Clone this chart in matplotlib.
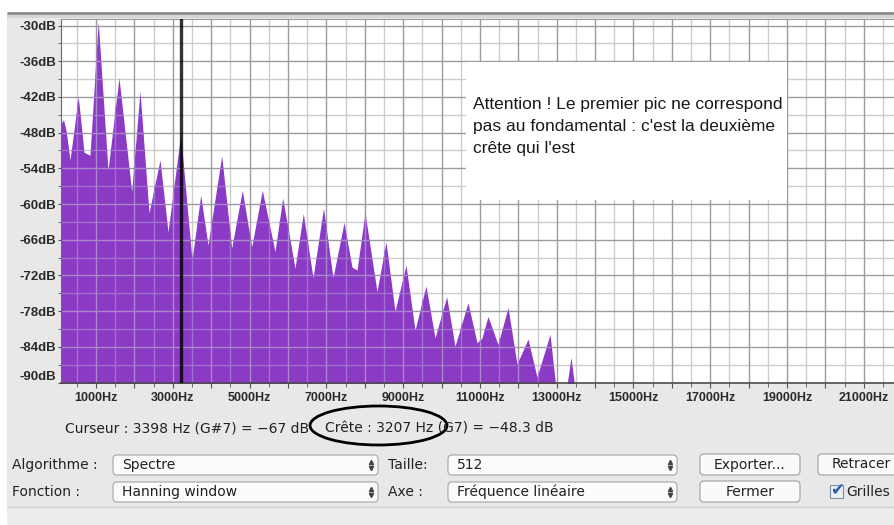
import numpy as np
import matplotlib
matplotlib.use("Agg")
import matplotlib.pyplot as plt
from matplotlib.patches import Rectangle, Ellipse, FancyBboxPatch
from matplotlib.ticker import MultipleLocator

W, H = 895, 525

# spectrum outline (Hz, dB), peaks and troughs of the harmonics
freq_hz = [91, 156, 221, 326, 542, 690, 846, 1060, 1315, 1601, 1932, 2148,
           2383, 2669, 2878, 3207, 3503, 3729, 3919, 4276, 4536, 4812, 5057,
           5333, 5664, 5864, 6185, 6401, 6654, 6927, 7174, 7461, 7669, 7800,
           8008, 8320, 8555, 8789, 9076, 9310, 9596, 9831, 10135, 10352,
           10690, 10925, 11050, 11210, 11471, 11732, 11966, 12253, 12487,
           12826, 12982, 13255, 13372, 13476, 22050]
level_db = [-46.5, -45.8, -47.5, -52.6, -42.0, -51.3, -51.8, -29.3, -54.3,
            -38.8, -57.9, -41.0, -61.5, -52.6, -64.7, -48.3, -69.4, -58.5,
            -66.9, -51.9, -67.4, -57.7, -67.2, -57.7, -68.0, -59.0, -70.8,
            -61.6, -72.4, -60.7, -72.4, -63.1, -70.6, -71.1, -61.5, -74.7,
            -66.4, -78.0, -70.3, -81.2, -73.8, -82.5, -75.6, -83.9, -76.6,
            -83.3, -82.6, -78.9, -83.6, -77.4, -86.9, -82.7, -89.1, -81.9,
            -91.0, -91.0, -85.8, -91.0, -91.0]

peak_hz = 3207
f_range = (91, 21810)
db_range = (-90, -28.9)

x_ticks = list(range(1000, 22000, 1000))
x_named = ['1000Hz', '3000Hz', '5000Hz', '7000Hz', '9000Hz', '11000Hz',
           '13000Hz', '15000Hz', '17000Hz', '19000Hz', '21000Hz']
y_ticks = [-90, -84, -78, -72, -66, -60, -54, -48, -42, -36, -30]
y_labels = ['-90dB', '-84dB', '-78dB', '-72dB', '-66dB', '-60dB', '-54dB',
            '-48dB', '-42dB', '-36dB', '-30dB']

note = ("Attention ! Le premier pic ne correspond\n"
        "pas au fondamental : c'est la deuxième\n"
        "crête qui l'est")
cursor_txt = "Curseur : 3398 Hz (G#7) = \u221267 dB"
peak_txt = "Crête : 3207 Hz (G7) = \u221248.3 dB"

PURPLE = '#8b3ac5'
BG = '#e8e8e8'

fig = plt.figure(figsize=(W / 100, H / 100), dpi=100)
fig.patch.set_facecolor('white')
fig.add_artist(Rectangle((7 / W, 0), 1, (H - 13) / H, transform=fig.transFigure,
                         fc=BG, ec='none', zorder=-2))

ax = fig.add_axes([61 / W, (H - 382.5) / H, (W - 61) / W, (382.5 - 19) / H])
ax.set_facecolor('white')
ax.set_xlim(*f_range)
ax.set_ylim(*db_range)

fill = ax.fill_between(freq_hz, level_db, -100, color=PURPLE, lw=0, zorder=1)

# grid: gray on white, lighter lavender where it crosses the spectrum
gx_major = np.arange(1000, 22000, 1000)
gx_minor = np.arange(500, 22000, 1000)
gy_major = np.arange(-84, -29, 6)
gy_minor = np.arange(-87, -29, 6)
clip = fill.get_paths()[0]
for cols, z, clipped in [(('#cdcdcd', '#9c9c9c'), 0.5, False),
                         (('#a070cf', '#aa88cc'), 2, True)]:
    for gx, gy, c in [(gx_minor, gy_minor, cols[0]), (gx_major, gy_major, cols[1])]:
        vl = ax.vlines(gx, *db_range, colors=c, lw=1.0, zorder=z)
        hl = ax.hlines(gy, *f_range, colors=c, lw=1.0, zorder=z)
        if clipped:
            vl.set_clip_path(clip, ax.transData)
            hl.set_clip_path(clip, ax.transData)

ax.axvline(peak_hz, color='black', alpha=0.8, lw=2.4, zorder=3)

ax.spines['right'].set_visible(False)
ax.spines['left'].set_color('#6a6a6a')
ax.spines['bottom'].set_color('#4a4a4a')
ax.spines['bottom'].set_linewidth(1.2)
ax.spines['top'].set_color('#9a9a9a')

ax.set_xticks(x_ticks)
ax.set_xticklabels([f"{t}Hz" if f"{t}Hz" in x_named else '' for t in x_ticks])
ax.set_yticks(y_ticks)
ax.set_yticklabels(y_labels)
ax.xaxis.set_minor_locator(MultipleLocator(500))
ax.yaxis.set_minor_locator(MultipleLocator(3))
ax.tick_params(axis='x', which='major', length=3.5, color='#555555', pad=3)
ax.tick_params(axis='x', which='minor', length=3, color='#555555')
ax.tick_params(axis='y', which='both', length=2.5, color='#555555', pad=1)
for lab in ax.get_xticklabels():
    lab.set_fontfamily('Liberation Sans')
    lab.set_fontweight('bold')
    lab.set_fontsize(9)
    lab.set_color('#2a2a2a')
for lab in ax.get_yticklabels():
    lab.set_fontfamily('Liberation Sans')
    lab.set_fontweight('bold')
    lab.set_fontsize(9.5)
    lab.set_color('#2a2a2a')
ax.get_yticklabels()[0].set_va('bottom')

# window chrome drawn in pixel coordinates
ui = fig.add_axes([0, 0, 1, 1], zorder=5)
ui.set_xlim(0, W)
ui.set_ylim(H, 0)
ui.axis('off')
ui.patch.set_alpha(0)

ui.hlines(13, 7, W, color='#8a8a8a', lw=2)
ui.add_patch(Rectangle((7, 14.5), W, 3.5, fc='#d6d6d6', ec='none'))

ui.add_patch(Rectangle((466, 62), 787 - 466, 200 - 62, fc='white', ec='none'))
ui.text(473, 97, note, va='top', ha='left', fontsize=12.5,
        family='Liberation Sans', linespacing=1.6, color='#1a1a1a')

TXT = dict(family='DejaVu Sans', fontsize=10, color='#222222', va='center')
ui.text(65, 429, cursor_txt, **TXT)
ui.text(325, 429, peak_txt, **TXT)
ui.add_patch(Ellipse((378.5, 425.5), 137, 39, fill=False, ec='black', lw=2))


def dropdown(x0, x1, y0, label):
    ui.add_patch(FancyBboxPatch((x0, y0), x1 - x0, 20,
                                boxstyle='round,pad=0,rounding_size=4',
                                fc='#fbfbfb', ec='#a5a5a5', lw=0.8))
    ui.text(x0 + 9, y0 + 10, label, **TXT)
    ui.plot([x1 - 7], [y0 + 7], marker='^', ms=3, color='#444444')
    ui.plot([x1 - 7], [y0 + 13], marker='v', ms=3, color='#444444')


def button(x0, x1, y0, label):
    ui.add_patch(FancyBboxPatch((x0, y0), x1 - x0, 21,
                                boxstyle='round,pad=0,rounding_size=4',
                                fc='#fafafa', ec='#a0a0a0', lw=0.8))
    ui.text((x0 + x1) / 2, y0 + 10.5, label, ha='center', **TXT)


ui.text(12, 465, "Algorithme :", **TXT)
ui.text(12, 492, "Fonction :", **TXT)
ui.text(388, 465, "Taille:", **TXT)
ui.text(388, 492, "Axe :", **TXT)
dropdown(113, 378, 455, "Spectre")
dropdown(113, 378, 482, "Hanning window")
dropdown(448, 677, 455, "512")
dropdown(448, 677, 482, "Fréquence linéaire")
button(700, 800, 454, "Exporter...")
button(700, 800, 481, "Fermer")
button(818, 905, 454, "Retracer")
ui.add_patch(Rectangle((830, 485), 13, 13, fc='#e9eef7', ec='#7f8fa8', lw=0.8))
ui.text(837, 490, "\u2714", ha='center', va='center', fontsize=12,
        color='#2a5db0', family='DejaVu Sans')
ui.text(846, 492, "Grilles", **TXT)

ui.hlines(507, 7, W, color='#d2d2d2', lw=1)
ui.add_patch(Rectangle((7, 508), W, 17, fc='#ededed', ec='none'))

fig.savefig('out.png', dpi=100)
